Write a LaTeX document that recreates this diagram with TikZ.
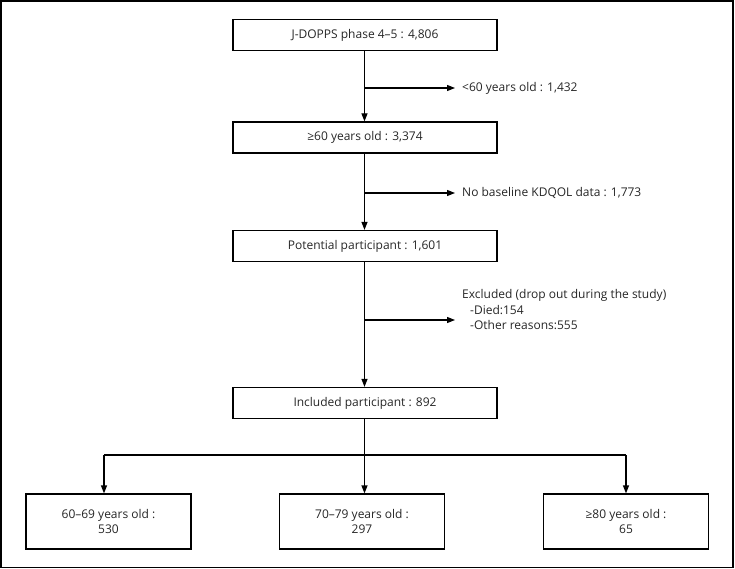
\documentclass[tikz,border=0pt]{standalone}
\usepackage{fontspec}
\setmainfont{Open Sans}
\usetikzlibrary{arrows.meta}
\begin{document}
\begin{tikzpicture}[x=1bp,y=-1bp,
  every node/.style={font=\fontsize{12bp}{15.5bp}\selectfont, text=black!85},
  box/.style={draw, line width=1.2bp, minimum height=31bp, inner sep=0pt},
  wide/.style={box, minimum width=264bp},
  leaf/.style={box, minimum width=165bp, minimum height=55bp, align=center},
  conn/.style={line width=1.2bp},
  arr/.style={conn, -{Triangle[length=8bp,width=6bp]}},
  lab/.style={anchor=west, inner xsep=7bp, inner ysep=0pt, align=left}]
\useasboundingbox (0,0) rectangle (735,569);
\draw[line width=1.5bp] (1,1) rectangle (733,567.5);
\node[wide] (n1) at (365,35) {J-DOPPS phase 4–5 : 4,806};
\node[wide] (n2) at (365,137.5) {≥60 years old : 3,374};
\node[wide] (n3) at (365,246) {Potential participant : 1,601};
\node[wide] (n4) at (365,403) {Included participant : 892};
\node[leaf] (l1) at (108.5,521.5) {60–69 years old :\\530};
\node[leaf] (l2) at (362,521.5) {70–79 years old :\\297};
\node[leaf] (l3) at (626,521.5) {≥80 years old :\\65};
\node[lab] (e1) at (455,88) {<60 years old : 1,432};
\node[lab] (e2) at (455,193) {No baseline KDQOL data : 1,773};
\node[lab] (e3) at (455,310) {Excluded (drop out during the study)\\\hspace{8bp}-Died:154\\\hspace{8bp}-Other reasons:555};
\coordinate (b1) at (364.5,88);
\coordinate (b2) at (364.5,193);
\coordinate (b3) at (364.5,320);
\coordinate (x3) at (455,320);
\coordinate (s) at (364.5,455);
\coordinate (sl) at (104,455);
\coordinate (sr) at (626,455);
\draw[arr] (n1.south -| b1) -- (n2.north -| b1);
\draw[arr] (b1) -- (e1.west);
\draw[arr] (n2.south -| b2) -- (n3.north -| b2);
\draw[arr] (b2) -- (e2.west);
\draw[arr] (n3.south -| b3) -- (n4.north -| b3);
\draw[arr] (b3) -- (x3);
\draw[conn] (n4.south -| s) -- (s);
\draw[arr] (s) -- (l2.north -| s);
\draw[arr] (sl) -- (l1.north -| sl);
\draw[arr] (sr) -- (l3.north -| sr);
\draw[conn] (sl) -- (sr);
\end{tikzpicture}
\end{document}
